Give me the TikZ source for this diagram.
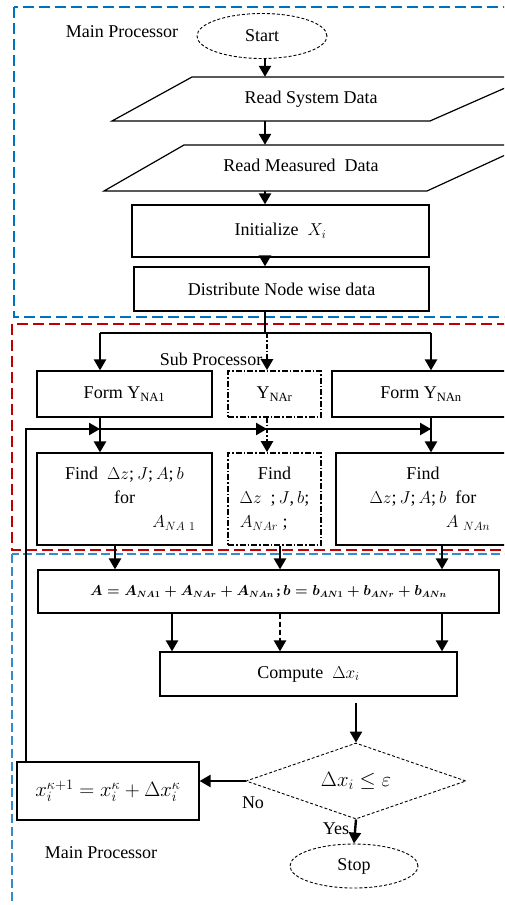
\documentclass[tikz,border=0pt]{standalone}
\usepackage{fontspec}
\setmainfont{Liberation Serif}
\usetikzlibrary{shapes.geometric,arrows.meta}
\definecolor{frameblue}{RGB}{0,112,192}
\definecolor{frameblueb}{RGB}{50,140,210}
\definecolor{framered}{RGB}{192,0,0}
\newcommand{\sumtxt}{{\boldmath$A = A_{NA1} + A_{NAr} + A_{NAn}$\,\textbf{;}\,$b = b_{AN1} + b_{ANr} + b_{ANn}$}}
\newcommand{\findone}{Find\ \ $\Delta z$;\,$J$;\,$A$;\,$b$\\for\\\hspace*{5.5em}$A_{NA\ 1}$}
\newcommand{\findr}{Find\\$\Delta z$\ \ ;\,$J$,\,$b$;\\\hspace*{-1.2em}$A_{NAr}$\ ;}
\newcommand{\findn}{Find\\$\Delta z$;\,$J$;\,$A$;\,$b$\ \ for\\\hspace*{5em}$A_{\ NAn}$}
\newcommand{\updtxt}{$x_i^{\kappa+1} = x_i^{\kappa} + \Delta x_i^{\kappa}$}
\newcommand{\cond}{$\Delta x_i \leq \varepsilon$}
\begin{document}
\begin{tikzpicture}[x=1pt,y=-1pt,
  every node/.style={font=\fontsize{18}{21}\selectfont, inner sep=0pt},
  box/.style={draw, line width=1.2pt, rectangle, align=center},
  dbox/.style={draw, line width=1.7pt, rectangle, align=center, dash pattern=on 6pt off 2pt on 1.5pt off 2pt},
  term/.style={draw, ellipse, line width=0.9pt, densely dashed, minimum width=130pt, minimum height=45pt},
  inv/.style={rectangle, align=center},
  arr/.style={line width=2.4pt, -{Triangle[width=12pt,length=11pt]}},
  link/.style={line width=1.4pt},
  dashdotline/.style={dash pattern=on 5pt off 2pt on 1.5pt off 2pt},
  frame/.style={line width=2.4pt, dash pattern=on 11pt off 5pt},
  lbl/.style={font=\fontsize{18}{21}\selectfont},
  tall/.style={font=\fontsize{18}{24}\selectfont}
]
\useasboundingbox (0,0) rectangle (504,905);
\clip (0,0) rectangle (504,905);
\fill[white] (0,0) rectangle (504,905);

% frames
\draw[frame, frameblue] (14,7) rectangle (530,317);
\draw[frame, framered] (12,324) rectangle (530,550);
\draw[frame, frameblueb, line width=1.8pt, dash pattern=on 9pt off 4pt] (12,554) rectangle (530,930);

% labels
\node[lbl] (mp1) at (122,32) {Main Processor};
\node[lbl] (sp) at (211,359) {Sub Processor};
\node[lbl] (mp2) at (101,853) {Main Processor};

% column reference
\coordinate (col) at (265,0);

% main nodes
\node[term] (start) at (262,36) {Start};

\draw[line width=1.2pt] (192,77) -- (530,77) -- (430,121) -- (112,121) -- cycle;
\node[inv, minimum width=238pt, minimum height=44pt] (rsd) at (311,99) {\raisebox{2pt}{Read System Data}};

\draw[line width=1.2pt] (184,145) -- (527,145) -- (427,191) -- (104,191) -- cycle;
\node[inv, minimum width=238pt, minimum height=46pt] (rmd) at (301,168) {\raisebox{5pt}{Read Measured\ \ Data}};

\node[box, minimum width=297pt, minimum height=52pt] (init) at (280.5,231) {Initialize\ \ $X_i$};
\node[box, minimum width=295pt, minimum height=44pt] (dist) at (281.5,289) {Distribute Node wise data};

% sub processor boxes
\node[box, minimum width=175pt, minimum height=46pt] (fy1) at (124.5,394) {Form Y\textsubscript{NA1}};
\node[dbox, minimum width=93pt, minimum height=46pt] (fyr) at (274.5,394) {Y\textsubscript{NAr}};
\node[box, minimum width=178pt, minimum height=46pt] (fyn) at (421,394) {Form Y\textsubscript{NAn}};

\node[box, tall, minimum width=175pt, minimum height=92pt] (fd1) at (124.5,499) {\findone};
\node[dbox, tall, minimum width=93pt, minimum height=92pt] (fdr) at (274.5,499) {\findr};
\node[box, tall, minimum width=174pt, minimum height=92pt] (fdn) at (423,499) {\findn};

% aggregation
\node[box, minimum width=461pt, minimum height=43pt, font=\fontsize{13.5}{16}\selectfont] (agg) at (268.5,591.5) {\sumtxt};
\node[box, minimum width=297pt, minimum height=44pt] (comp) at (308.5,674) {Compute\ \ $\Delta x_i$};

\node[draw, diamond, line width=0.9pt, densely dashed, minimum width=220pt, minimum height=76pt, aspect=2.9, font=\fontsize{22}{26}\selectfont] (dia) at (356,781) {\cond};
\node[box, minimum width=182pt, minimum height=58pt, font=\fontsize{22}{26}\selectfont] (upd) at (108,791) {\raisebox{3pt}{\updtxt}};
\node[term, minimum width=128pt, minimum height=44pt] (stop) at (354,866) {Stop};

\node[lbl] (no) at (253,803) {No};
\node[lbl] (yes) at (336,829) {Yes};

% main processor arrows
\draw[arr] (start.south -| col) -- (rsd.north -| col);
\draw[arr] (rsd.south -| col) -- (rmd.north -| col);
\draw[arr] (rmd.south -| col) -- (init.north -| col);
\draw[arr] (init.south -| col) -- (dist.north -| col);

% branch to sub processors
\coordinate (br) at (265,333);
\coordinate (b1) at (100,333);
\coordinate (b3) at (431,333);
\coordinate (bm) at (267,333);
\draw[link] (dist.south -| col) -- (br);
\draw[link, line width=1.6pt] (b1) -- (b3);
\draw[arr] (b1) -- (b1 |- fy1.north);
\draw[arr] (b3) -- (b3 |- fyn.north);
\draw[arr, dashdotline] (bm) -- (bm |- fyr.north);

% feedback line
\coordinate (f0) at (26,429);
\coordinate (fe) at (431,429);
\draw[link] (upd.north -| f0) -- (f0) -- (fe);
\draw[arr] (78,429) -- (b1 |- f0);
\draw[arr] (245,429) -- (bm |- f0);
\draw[arr] (405,429) -- (fe);

% Y to Find
\draw[arr] (fy1.south -| b1) -- (fd1.north -| b1);
\draw[arr, dashdotline] (fyr.south -| bm) -- (fdr.north -| bm);
\draw[arr] (fyn.south -| b3) -- (fdn.north -| b3);

% Find to aggregation
\coordinate (k1) at (115,0);
\coordinate (k2) at (280,0);
\coordinate (k3) at (442,0);
\draw[arr] (fd1.south -| k1) -- (agg.north -| k1);
\draw[arr] (fdr.south -| k2) -- (agg.north -| k2);
\draw[arr] (fdn.south -| k3) -- (agg.north -| k3);

% aggregation to compute
\coordinate (m1) at (172,0);
\draw[arr] (agg.south -| m1) -- (comp.north -| m1);
\draw[arr, dash pattern=on 5pt off 3pt] (agg.south -| k2) -- (comp.north -| k2);
\draw[arr] (agg.south -| k3) -- (comp.north -| k3);

% compute to decision
\draw[arr, shorten <=6pt] (comp.south -| dia.north) -- (dia.north);
\draw[arr] (dia.west) -- (dia.west -| upd.east);
\draw[arr] (dia.south) -- (stop.north);
\end{tikzpicture}
\end{document}
